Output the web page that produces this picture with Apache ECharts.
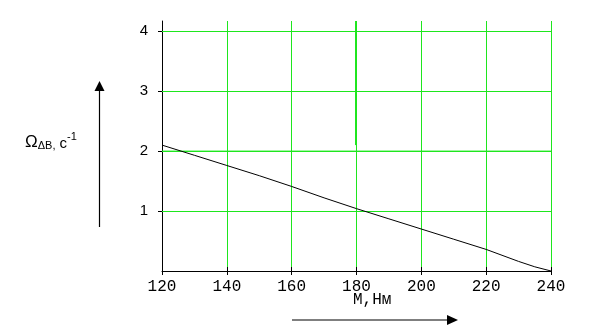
<!DOCTYPE html>
<html><head><meta charset="utf-8">
<script src="https://cdn.jsdelivr.net/npm/echarts@6/dist/echarts.min.js"></script>
<style>html,body{margin:0;padding:0;background:#fff}#c{width:605px;height:335px}</style>
</head><body><div id="c"></div>
<script>
const mValues = [120, 130, 140, 150, 160, 170, 180, 190, 200, 210, 220, 230, 235, 240];
const omegaValues = [2.1, 1.93, 1.76, 1.59, 1.41, 1.22, 1.04, 0.87, 0.70, 0.53, 0.36, 0.16, 0.07, 0.0];
const xTicks = [120, 140, 160, 180, 200, 220, 240];
const yTicks = [1, 2, 3, 4];
const markerY = 2;
const markerX = 180;
const xTitle = 'M,Нм';

const GREEN = '#1ee61e';
const yMax = 4.17;
const chart = echarts.init(document.getElementById('c'));
const lineData = mValues.map((m, i) => [m, omegaValues[i]]);
const hGrid = yTicks.map(v => [{coord: [xTicks[0], v]}, {coord: [xTicks[xTicks.length - 1], v]}]);
chart.setOption({
  animation: false,
  grid: {left: 162, right: 54, top: 21, bottom: 64},
  xAxis: [{
    type: 'value', min: 120, max: 240, interval: 20,
    axisLine: {show: true, lineStyle: {color: '#000', width: 1}},
    axisTick: {show: true, length: 4, lineStyle: {color: '#000'}},
    axisLabel: {color: '#000', fontFamily: 'Liberation Mono', fontSize: 16, margin: 8},
    splitLine: {show: true, lineStyle: {color: GREEN, width: 1}}
  }, {
    type: 'value', min: 120, max: 240, interval: 20, position: 'bottom',
    axisLine: {show: false}, axisLabel: {show: false}, splitLine: {show: false},
    axisTick: {show: true, inside: true, length: 4, lineStyle: {color: '#000'}}
  }],
  yAxis: [{
    type: 'value', min: 0, max: yMax,
    axisLine: {show: true, lineStyle: {color: '#000', width: 1}},
    axisTick: {show: true, length: 4, customValues: yTicks, lineStyle: {color: '#000'}},
    axisLabel: {color: '#000', fontFamily: 'Liberation Sans', fontSize: 15, margin: 14, customValues: yTicks},
    splitLine: {show: false}
  }, {
    type: 'value', min: 0, max: yMax, position: 'left',
    axisLine: {show: false}, axisLabel: {show: false}, splitLine: {show: false},
    axisTick: {show: true, inside: true, length: 4, customValues: yTicks, lineStyle: {color: '#000'}}
  }],
  series: [{
    type: 'line', data: [], xAxisIndex: 0, yAxisIndex: 0, silent: true,
    markLine: {symbol: 'none', silent: true, label: {show: false},
      lineStyle: {color: GREEN, width: 1, type: 'solid'}, data: hGrid}
  }, {
    type: 'line', data: [[xTicks[0], markerY], [xTicks[xTicks.length - 1], markerY]],
    symbol: 'none', lineStyle: {color: GREEN, width: 1}, z: 3
  }, {
    type: 'line', data: [[markerX - 0.3, markerY + 0.1], [markerX - 0.3, yMax]],
    symbol: 'none', lineStyle: {color: GREEN, width: 1}, z: 3
  }, {
    type: 'line', data: lineData, symbol: 'none',
    lineStyle: {color: '#000', width: 1}, z: 5
  }],
  graphic: [
    {type: 'text', left: 353, top: 292, style: {text: xTitle, fill: '#000', font: '16px "Liberation Mono"'}},
    {type: 'line', shape: {x1: 292, y1: 320, x2: 448, y2: 320}, style: {stroke: '#000', lineWidth: 1.2}},
    {type: 'polygon', shape: {points: [[447, 315], [458, 320], [447, 325]]}, style: {fill: '#000'}},
    {type: 'line', shape: {x1: 99.5, y1: 227, x2: 99.5, y2: 90}, style: {stroke: '#000', lineWidth: 1.2}},
    {type: 'polygon', shape: {points: [[94.5, 91], [99.5, 81], [104.5, 91]]}, style: {fill: '#000'}},
    {type: 'text', left: 25, top: 131, style: {
      text: '{a|Ω}{s|ΔB,}{b| c}{p|-1}',
      rich: {
        a: {fontFamily: 'Liberation Sans', fontSize: 17, fill: '#000', verticalAlign: 'bottom', lineHeight: 20},
        s: {fontFamily: 'Liberation Sans', fontSize: 11, fill: '#000', padding: [6, 0, 0, 0], verticalAlign: 'bottom', lineHeight: 14},
        b: {fontFamily: 'Liberation Sans', fontSize: 15, fill: '#000', verticalAlign: 'bottom', lineHeight: 20},
        p: {fontFamily: 'Liberation Sans', fontSize: 11, fill: '#000', padding: [0, 0, 9, 0], verticalAlign: 'bottom', lineHeight: 24}
      }
    }}
  ]
});
</script></body></html>
